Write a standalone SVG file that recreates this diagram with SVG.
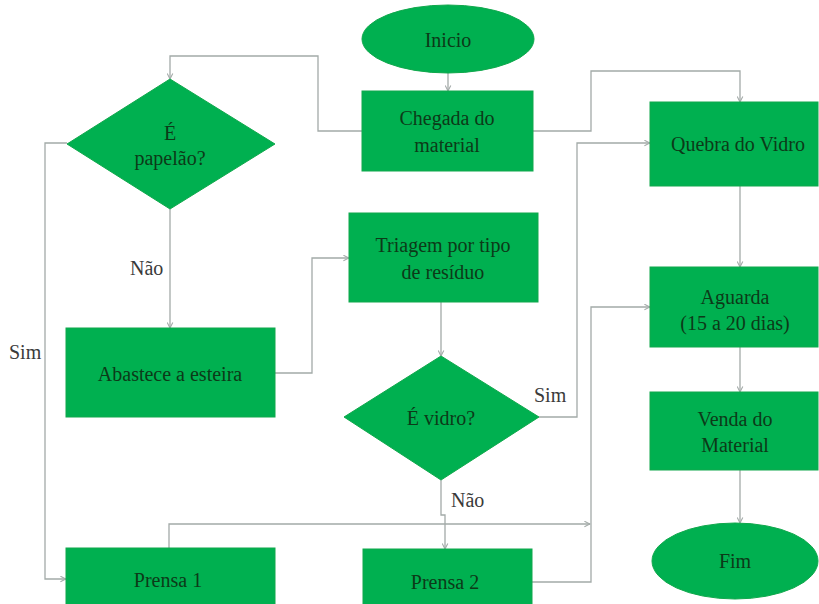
<svg xmlns="http://www.w3.org/2000/svg" width="819" height="604" viewBox="0 0 819 604">
  <style>
    .shape { fill: #00b050; stroke: #10a84c; stroke-width: 1; }
    .txt { font-size: 20px; fill: #0c3a18; text-anchor: middle; dominant-baseline: central; }
    .lbl { font-size: 20px; fill: #3a3a3a; dominant-baseline: central; }
    .conn { fill: none; stroke: #a3aaa8; stroke-width: 1.3; marker-end: url(#arrow); }
  </style>
  <defs>
    <marker id="arrow" viewBox="0 0 10 10" refX="9" refY="5" markerWidth="7" markerHeight="7" orient="auto" markerUnits="userSpaceOnUse">
      <path d="M1,1 L9,5 L1,9" fill="none" stroke="#a3aaa8" stroke-width="1.5"/>
    </marker>
  </defs>
  <rect width="819" height="604" fill="#ffffff"/>

  <g id="connectors">
    <!-- Inicio -> Chegada -->
    <path class="conn" d="M448,73 L448,91"/>
    <!-- Chegada -> É papelão? -->
    <path class="conn" d="M362,131 L318,131 L318,56 L170,56 L170,79"/>
    <!-- Chegada -> Quebra do Vidro -->
    <path class="conn" d="M533,131 L591,131 L591,71 L740,71 L740,102"/>
    <!-- É papelão? (Não) -> Abastece -->
    <path class="conn" d="M170,209 L170,328"/>
    <!-- É papelão? (Sim) -> Prensa 1 -->
    <path class="conn" d="M67,143 L45,143 L45,579 L66,579"/>
    <!-- Abastece -> Triagem -->
    <path class="conn" d="M275,373 L312,373 L312,258 L349,258"/>
    <!-- Triagem -> É vidro? -->
    <path class="conn" d="M441,302 L441,356"/>
    <!-- É vidro? (Sim) -> Quebra do Vidro -->
    <path class="conn" d="M539,417 L577,417 L577,143 L650,143"/>
    <!-- É vidro? (Não) -> Prensa 2 -->
    <path class="conn" d="M441,480 L441,515 L445,515 L445,549"/>
    <!-- Prensa 1 -> Aguarda branch -->
    <path class="conn" d="M169,548 L169,524 L590,524"/>
    <!-- Prensa 2 -> Aguarda -->
    <path class="conn" d="M532,582 L591,582 L591,307 L650,307"/>
    <!-- Quebra -> Aguarda -->
    <path class="conn" d="M740,186 L740,267"/>
    <!-- Aguarda -> Venda -->
    <path class="conn" d="M740,347 L740,392"/>
    <!-- Venda -> Fim -->
    <path class="conn" d="M740,470 L740,523"/>
  </g>

  <g id="labels" font-family="Liberation Serif, Times New Roman, Tinos, Noto Serif, DejaVu Serif, serif">
    <text class="lbl" x="130" y="268">Não</text>
    <text class="lbl" x="9" y="352">Sim</text>
    <text class="lbl" x="534" y="395">Sim</text>
    <text class="lbl" x="451" y="500">Não</text>
  </g>

  <g id="nodes" font-family="Liberation Serif, Times New Roman, Tinos, Noto Serif, DejaVu Serif, serif">
  <g id="inicio">
    <ellipse class="shape" cx="448" cy="39" rx="86" ry="34"/>
    <text class="txt" x="448" y="40">Inicio</text>
  </g>
  <g id="chegada">
    <rect class="shape" x="362" y="91" width="171" height="80"/>
    <text class="txt" x="447" y="118">Chegada do</text>
    <text class="txt" x="447" y="145">material</text>
  </g>
  <g id="papelao">
    <polygon class="shape" points="170,79 275,144 170,209 67,144"/>
    <text class="txt" x="170" y="133">É</text>
    <text class="txt" x="170" y="158">papelão?</text>
  </g>
  <g id="quebra">
    <rect class="shape" x="650" y="102" width="168" height="84"/>
    <text class="txt" x="738" y="144">Quebra do Vidro</text>
  </g>
  <g id="triagem">
    <rect class="shape" x="349" y="213" width="189" height="89"/>
    <text class="txt" x="443" y="245">Triagem por tipo</text>
    <text class="txt" x="443" y="272">de resíduo</text>
  </g>
  <g id="aguarda">
    <rect class="shape" x="650" y="267" width="168" height="80"/>
    <text class="txt" x="735" y="297">Aguarda</text>
    <text class="txt" x="735" y="323">(15 a 20 dias)</text>
  </g>
  <g id="abastece">
    <rect class="shape" x="66" y="328" width="209" height="89"/>
    <text class="txt" x="170" y="374">Abastece a esteira</text>
  </g>
  <g id="vidro">
    <polygon class="shape" points="441,356 539,417 441,480 344,417"/>
    <text class="txt" x="441" y="418">É vidro?</text>
  </g>
  <g id="venda">
    <rect class="shape" x="650" y="392" width="168" height="78"/>
    <text class="txt" x="735" y="419">Venda do</text>
    <text class="txt" x="735" y="445">Material</text>
  </g>
  <g id="fim">
    <ellipse class="shape" cx="735" cy="561" rx="83" ry="38"/>
    <text class="txt" x="735" y="561">Fim</text>
  </g>
  <g id="prensa1">
    <rect class="shape" x="66" y="548" width="209" height="60"/>
    <text class="txt" x="168" y="580">Prensa 1</text>
  </g>
  <g id="prensa2">
    <rect class="shape" x="363" y="549" width="169" height="60"/>
    <text class="txt" x="445" y="582">Prensa 2</text>
  </g>
  </g>
</svg>
